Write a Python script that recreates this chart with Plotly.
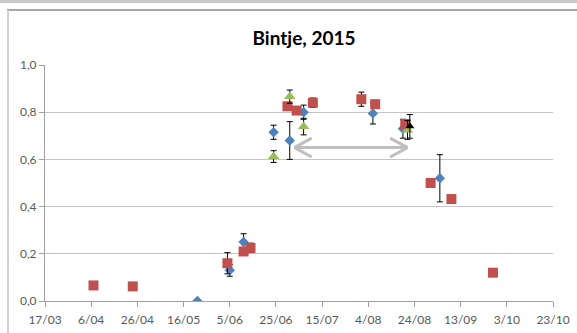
import plotly.graph_objects as go
import pandas as pd

# ---- data ----
blue_dates = ["2015-05-22", "2015-06-05", "2015-06-11", "2015-06-24", "2015-07-01",
              "2015-07-07", "2015-08-06", "2015-08-19", "2015-09-04"]
blue_vals = [0.00, 0.13, 0.25, 0.715, 0.68, 0.80, 0.795, 0.73, 0.52]
blue_err = [None, 0.025, 0.035, 0.03, 0.08, 0.03, 0.045, 0.04, 0.10]

red_dates = ["2015-04-07", "2015-04-24", "2015-06-04", "2015-06-11", "2015-06-14",
             "2015-06-30", "2015-07-04", "2015-07-11", "2015-08-01", "2015-08-07",
             "2015-08-20", "2015-08-31", "2015-09-09", "2015-09-27"]
red_vals = [0.066, 0.062, 0.16, 0.21, 0.225, 0.825, 0.807, 0.84, 0.855, 0.834,
            0.75, 0.50, 0.432, 0.12]
red_err = [None, None, 0.045, None, 0.02, None, None, 0.02, 0.03, None,
           None, None, None, None]

green_dates = ["2015-06-24", "2015-07-01", "2015-07-07", "2015-08-21"]
green_vals = [0.612, 0.866, 0.739, 0.725]
green_err = [0.025, 0.028, 0.035, 0.04]

black_dates = ["2015-08-22"]
black_vals = [0.74]
black_err = [0.05]

x_tickvals = ["2015-03-17", "2015-04-06", "2015-04-26", "2015-05-16", "2015-06-05",
              "2015-06-25", "2015-07-15", "2015-08-04", "2015-08-24", "2015-09-13",
              "2015-10-03", "2015-10-23"]
x_ticktext = ["17/03", "6/04", "26/04", "16/05", "5/06", "25/06", "15/07", "4/08",
              "24/08", "13/09", "3/10", "23/10"]
y_tickvals = [0.0, 0.2, 0.4, 0.6, 0.8, 1.0]

arrow_start = "2015-07-03"
arrow_end = "2015-08-21"
arrow_level = 0.65

title_text = "Bintje, 2015"

# ---- figure ----
W, H = 577, 333
ML, MR, MT, MB = 45, 24, 65, 32
PW, PH = W - ML - MR, H - MT - MB

def err(a):
    return dict(type="data", array=a, visible=True, color="#000000",
                thickness=1, width=3)

fig = go.Figure()
fig.add_trace(go.Scatter(x=blue_dates, y=blue_vals, mode="markers",
                         marker=dict(symbol="diamond", size=8, color="#4F81BD",
                                     line=dict(width=0)),
                         error_y=err(blue_err), showlegend=False))
fig.add_trace(go.Scatter(x=red_dates, y=red_vals, mode="markers",
                         marker=dict(symbol="square", size=10, color="#C0504D",
                                     line=dict(width=0)),
                         error_y=err(red_err), showlegend=False))
fig.add_trace(go.Scatter(x=green_dates, y=green_vals, mode="markers",
                         marker=dict(symbol="triangle-up", size=10, color="#9BBB59",
                                     line=dict(width=0)),
                         error_y=err(green_err), showlegend=False))
fig.add_trace(go.Scatter(x=black_dates, y=black_vals, mode="markers",
                         marker=dict(symbol="triangle-up", size=8, color="#000000",
                                     line=dict(width=0)),
                         error_y=err(black_err), showlegend=False))

# ---- double-headed arrow ----
ac = "#BFBFBF"
head_dx = pd.Timedelta(days=7.5)
head_dy = 0.04
s = pd.Timestamp(arrow_start)
e = pd.Timestamp(arrow_end)
shapes = [dict(type="line", xref="x", yref="y", x0=s, x1=e, y0=arrow_level, y1=arrow_level,
               line=dict(color=ac, width=3))]
for tip, sign in ((s, 1), (e, -1)):
    for dy in (head_dy, -head_dy):
        shapes.append(dict(type="line", xref="x", yref="y", x0=tip, y0=arrow_level,
                           x1=tip + sign * head_dx, y1=arrow_level + dy,
                           line=dict(color=ac, width=3)))

# ---- frame decoration (pixel -> paper) ----
def px(xp):
    return (xp - ML) / PW

def py(yp):
    return (H - MB - yp) / PH

shapes += [
    dict(type="rect", xref="paper", yref="paper", x0=px(0), x1=px(W), y0=py(0), y1=py(3),
         fillcolor="#C8C8C8", line=dict(width=0), layer="below"),
    dict(type="line", xref="paper", yref="paper", x0=px(7), x1=px(W), y0=py(10), y1=py(10),
         line=dict(color="#A6A6A6", width=2), layer="below"),
    dict(type="line", xref="paper", yref="paper", x0=px(8), x1=px(8), y0=py(10), y1=py(H),
         line=dict(color="#D0D0D0", width=2), layer="below"),
]

tick_font = dict(family="Lato, 'Open Sans', sans-serif", size=12, color="#595959")

fig.update_layout(
    width=W, height=H,
    margin=dict(l=ML, r=MR, t=MT, b=MB, pad=0, autoexpand=False),
    paper_bgcolor="white", plot_bgcolor="white",
    separators=", ",
    title=dict(text="<b>" + title_text + "</b>", x=(ML + PW / 2 + 5) / W, xanchor="center",
               y=1 - 38 / H, yanchor="middle",
               font=dict(family="Lato, 'Open Sans', sans-serif", size=19, color="#000000")),
    shapes=shapes,
    xaxis=dict(type="date", range=[x_tickvals[0], x_tickvals[-1]],
               tickmode="array", tickvals=x_tickvals, ticktext=x_ticktext,
               showgrid=False, zeroline=False, showline=True, linecolor="#A0A0A0",
               linewidth=1, ticks="outside", ticklen=5, tickcolor="#A0A0A0",
               tickfont=tick_font, ticklabelstandoff=3, automargin=False),
    yaxis=dict(range=[0, 1], tickmode="array", tickvals=y_tickvals, tickformat=".1f",
               showgrid=True, gridcolor="#C4C4C4", gridwidth=1, zeroline=False,
               showline=True, linecolor="#A0A0A0", linewidth=1, automargin=False,
               ticks="outside", ticklen=5, tickcolor="#A0A0A0", tickfont=tick_font),
)

fig.write_html("out.html", config={"displayModeBar": False},
               post_script="document.body.style.margin='0';document.body.style.overflow='hidden';")
